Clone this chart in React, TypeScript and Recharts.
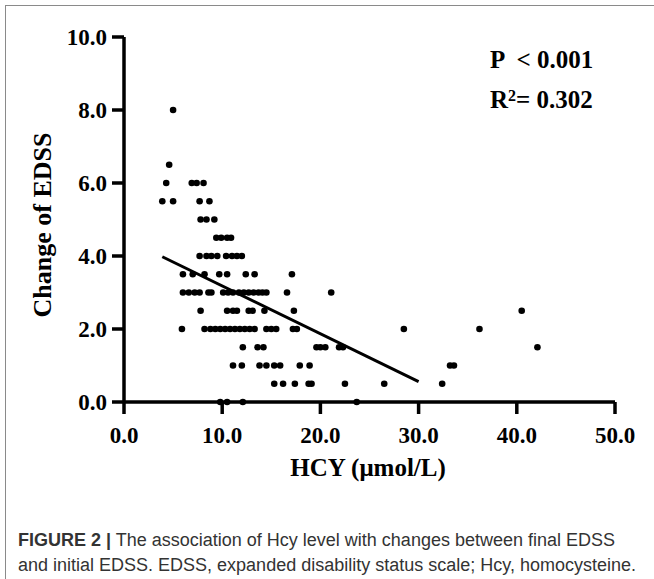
import { ScatterChart, Scatter, XAxis, YAxis, ReferenceLine } from 'recharts';

// Hcy values (µmol/L), grouped by change of EDSS
const HCY_AT_8_0 = [5.0];
const HCY_AT_6_5 = [4.6];
const HCY_AT_6_0 = [4.3, 6.9, 7.4, 8.1];
const HCY_AT_5_5 = [3.9, 5.0, 7.7, 8.7];
const HCY_AT_5_0 = [7.8, 8.4, 9.2];
const HCY_AT_4_5 = [9.4, 9.9, 10.5, 10.9];
const HCY_AT_4_0 = [7.7, 8.4, 8.9, 9.5, 10.4, 11.0, 11.5, 12.0];
const HCY_AT_3_5 = [6.0, 7.0, 8.2, 9.7, 10.5, 12.4, 13.3, 17.1];
const HCY_AT_3_0 = [6.0, 6.6, 7.2, 7.7, 8.6, 8.9, 10.1, 10.6, 11.1, 11.7, 12.2, 12.7, 13.2, 13.7, 14.1, 14.5, 16.6, 21.1];
const HCY_AT_2_5 = [7.8, 10.5, 11.1, 11.5, 12.7, 13.1, 14.3, 17.3, 40.5];
const HCY_AT_2_0 = [5.9, 8.2, 8.8, 9.3, 9.8, 10.3, 10.8, 11.3, 11.8, 12.3, 12.8, 13.3, 14.5, 15.0, 15.5, 17.2, 17.6, 28.5, 36.2];
const HCY_AT_1_5 = [12.1, 13.6, 14.2, 19.6, 20.0, 20.5, 21.9, 22.3, 42.1];
const HCY_AT_1_0 = [11.1, 12.0, 13.8, 14.5, 15.3, 15.9, 17.9, 18.9, 33.2, 33.6];
const HCY_AT_0_5 = [15.3, 16.2, 17.4, 18.8, 19.1, 22.5, 26.5, 32.4];
const HCY_AT_0_0 = [9.8, 10.5, 12.1, 23.7];

const GROUPS: [number, number[]][] = [
  [8.0, HCY_AT_8_0],
  [6.5, HCY_AT_6_5],
  [6.0, HCY_AT_6_0],
  [5.5, HCY_AT_5_5],
  [5.0, HCY_AT_5_0],
  [4.5, HCY_AT_4_5],
  [4.0, HCY_AT_4_0],
  [3.5, HCY_AT_3_5],
  [3.0, HCY_AT_3_0],
  [2.5, HCY_AT_2_5],
  [2.0, HCY_AT_2_0],
  [1.5, HCY_AT_1_5],
  [1.0, HCY_AT_1_0],
  [0.5, HCY_AT_0_5],
  [0.0, HCY_AT_0_0],
];

const X_TICKS = [0, 10, 20, 30, 40, 50];
const Y_TICKS = [0, 2, 4, 6, 8, 10];

// linear fit
const FIT_INTERCEPT = 4.49;
const FIT_SLOPE = -0.131;
const FIT_RANGE = [3.9, 30.0];

const points = GROUPS.flatMap(([edss, list]) =>
  list.map((hcy) => ({ hcy, edss })),
);

const SERIF = "'Liberation Serif', 'Times New Roman', serif";
const CAPTION_FONT = "'Liberation Sans Narrow', 'Liberation Sans', Arial, sans-serif";

function XTick({ x, y, payload }: any) {
  return (
    <text
      x={x}
      y={y + 27}
      textAnchor="middle"
      fontFamily={SERIF}
      fontWeight="bold"
      fontSize={23}
      fill="#000"
    >
      {Number(payload.value).toFixed(1)}
    </text>
  );
}

function YTick({ x, y, payload }: any) {
  return (
    <text
      x={x - 3}
      y={y + 8}
      textAnchor="end"
      fontFamily={SERIF}
      fontWeight="bold"
      fontSize={23}
      fill="#000"
    >
      {Number(payload.value).toFixed(1)}
    </text>
  );
}

export default function App() {
  const fitSegment = FIT_RANGE.map((x) => ({
    x,
    y: FIT_INTERCEPT + FIT_SLOPE * x,
  }));

  return (
    <div
      style={{
        position: 'absolute',
        left: 0,
        top: 0,
        width: 654,
        height: 579,
        background: '#fff',
        overflow: 'hidden',
      }}
    >
      <div
        style={{
          position: 'absolute',
          left: 5,
          top: 5,
          width: 700,
          height: 600,
          borderTop: '1.5px solid #8a8a8a',
          borderLeft: '1.5px solid #8a8a8a',
        }}
      />

      <ScatterChart
        width={654}
        height={579}
        margin={{ top: 37, right: 39, bottom: 117, left: 0 }}
        style={{ position: 'absolute', left: 0, top: 0 }}
      >
        <XAxis
          type="number"
          dataKey="hcy"
          domain={[0, 50]}
          ticks={X_TICKS}
          interval={0}
          height={60}
          axisLine={{ stroke: '#000', strokeWidth: 3.5 }}
          tickLine={{ stroke: '#000', strokeWidth: 3.5 }}
          tickSize={12}
          tick={<XTick />}
        />
        <YAxis
          type="number"
          dataKey="edss"
          domain={[0, 10]}
          ticks={Y_TICKS}
          interval={0}
          width={124}
          axisLine={{ stroke: '#000', strokeWidth: 3.5 }}
          tickLine={{ stroke: '#000', strokeWidth: 3.5 }}
          tickSize={12}
          tick={<YTick />}
        />
        <ReferenceLine
          segment={fitSegment}
          stroke="#000"
          strokeWidth={3}
          ifOverflow="visible"
        />
        <Scatter
          data={points}
          fill="#000"
          isAnimationActive={false}
          shape={(p: any) => <circle cx={p.cx} cy={p.cy} r={3.3} fill="#000" />}
        />
      </ScatterChart>

      <div
        style={{
          position: 'absolute',
          left: 368,
          top: 468,
          transform: 'translate(-50%, -50%)',
          fontFamily: SERIF,
          fontWeight: 'bold',
          fontSize: 25,
          whiteSpace: 'nowrap',
          color: '#000',
        }}
      >
        HCY (μmol/L)
      </div>

      <div
        style={{
          position: 'absolute',
          left: 43,
          top: 225,
          transform: 'translate(-50%, -50%) rotate(-90deg)',
          fontFamily: SERIF,
          fontWeight: 'bold',
          fontSize: 26,
          whiteSpace: 'nowrap',
          color: '#000',
        }}
      >
        Change of EDSS
      </div>

      <div
        style={{
          position: 'absolute',
          left: 490,
          top: 40,
          fontFamily: SERIF,
          fontWeight: 'bold',
          fontSize: 25,
          lineHeight: '40px',
          color: '#000',
          whiteSpace: 'pre',
        }}
      >
        <div>{'P  < 0.001'}</div>
        <div>
          R<sup style={{ fontSize: 16, verticalAlign: 'top', lineHeight: '32px' }}>2</sup>= 0.302
        </div>
      </div>

      <div
        style={{
          position: 'absolute',
          left: 18,
          top: 528,
          width: 640,
          fontFamily: CAPTION_FONT,
          fontSize: 18,
          lineHeight: '25px',
          color: '#333',
          whiteSpace: 'nowrap',
        }}
      >
        <span style={{ fontWeight: 'bold' }}>FIGURE 2 |</span> The association of Hcy level with changes between final EDSS
        <br />
        and initial EDSS. EDSS, expanded disability status scale; Hcy, homocysteine.
      </div>
    </div>
  );
}
